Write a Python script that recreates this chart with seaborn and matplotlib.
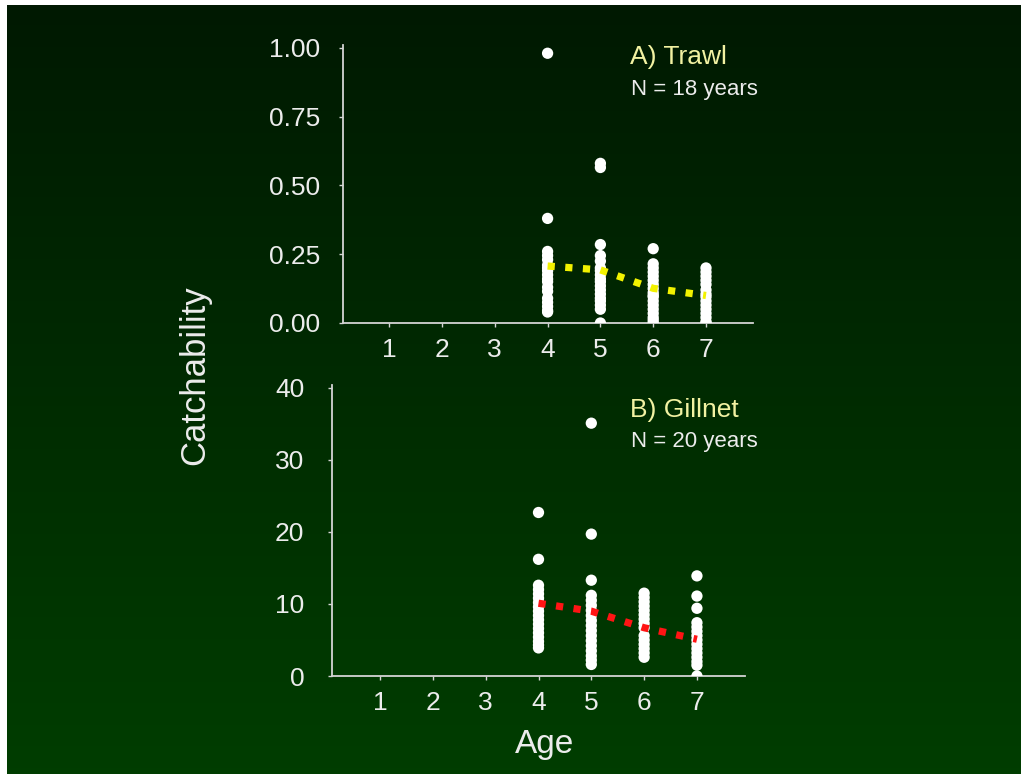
import numpy as np
import pandas as pd
import matplotlib
matplotlib.use("Agg")
import matplotlib.pyplot as plt
import seaborn as sns

# ================== data ==================
ages = [4, 5, 6, 7]

trawl_age4 = [0.98, 0.38, 0.26, 0.245, 0.23, 0.21, 0.20, 0.19, 0.175, 0.16, 0.15, 0.13, 0.115, 0.09, 0.075, 0.06, 0.045, 0.04]
trawl_age5 = [0.58, 0.565, 0.285, 0.245, 0.225, 0.20, 0.19, 0.175, 0.16, 0.15, 0.135, 0.12, 0.105, 0.09, 0.08, 0.065, 0.05, 0.0]
trawl_age6 = [0.27, 0.215, 0.20, 0.185, 0.17, 0.155, 0.14, 0.125, 0.11, 0.10, 0.095, 0.08, 0.065, 0.05, 0.035, 0.02, 0.01, 0.0]
trawl_age7 = [0.20, 0.185, 0.17, 0.155, 0.14, 0.12, 0.105, 0.095, 0.08, 0.065, 0.05, 0.035, 0.02, 0.005, 0.0]
trawl_mean = [0.207, 0.193, 0.126, 0.100]

gill_age4 = [22.7, 16.2, 12.6, 12.0, 11.4, 10.8, 10.2, 9.6, 9.0, 8.4, 7.8, 7.2, 6.6, 6.0, 5.4, 4.8, 4.3, 3.9]
gill_age5 = [35.1, 19.7, 13.3, 11.2, 10.5, 9.8, 9.1, 8.4, 7.7, 7.0, 6.3, 5.6, 4.9, 4.2, 3.5, 2.8, 2.2, 1.6]
gill_age6 = [11.5, 10.9, 10.3, 9.7, 9.1, 8.5, 7.9, 7.3, 6.7, 5.6, 5.0, 4.4, 3.8, 3.2, 2.6]
gill_age7 = [13.9, 11.1, 9.4, 7.4, 6.8, 6.2, 5.6, 5.0, 4.4, 3.8, 3.2, 2.6, 2.0, 1.5, 0.0]
gill_mean = [10.1, 9.0, 6.7, 5.1]

x_ticks = [1, 2, 3, 4, 5, 6, 7]
trawl_yticks = [0.0, 0.25, 0.5, 0.75, 1.0]
trawl_yticklabels = ["0.00", "0.25", "0.50", "0.75", "1.00"]
gill_yticks = [0, 10, 20, 30, 40]
# ==========================================

TXT = "#ececec"
SPINE = "#d4d4d4"


def to_long(cols):
    rows = []
    for age, vals in zip(ages, cols):
        rows += [(age, v) for v in vals]
    return pd.DataFrame(rows, columns=["Age", "q"])


def style_axes(ax, ypad):
    ax.set_facecolor("none")
    for s in ["top", "right"]:
        ax.spines[s].set_visible(False)
    for s in ["left", "bottom"]:
        ax.spines[s].set_color(SPINE)
        ax.spines[s].set_linewidth(1.3)
    ax.tick_params(axis="x", colors=SPINE, labelcolor=TXT, labelsize=19,
                   length=3, width=1, direction="out", pad=8)
    ax.tick_params(axis="y", colors=SPINE, labelcolor=TXT, labelsize=19,
                   length=3, width=1, direction="out", pad=ypad)
    ax.set_xlabel("")
    ax.set_ylabel("")
    ax.grid(False)


def panel(ax, df, ages_, means, line_color, xlim, ylim, ypad):
    sns.scatterplot(data=df, x="Age", y="q", color="white", s=66,
                    edgecolor="none", linewidth=0, ax=ax, zorder=3, legend=False)
    sns.lineplot(x=ages_, y=means, color=line_color, linewidth=5.2,
                 linestyle=(0, (1, 1.45)), ax=ax, zorder=4)
    ax.set_xlim(*xlim)
    ax.set_ylim(*ylim)
    ax.set_xticks(x_ticks)
    style_axes(ax, ypad)


def main():
    sns.set_theme(style="ticks")
    plt.rcParams["font.family"] = ["Liberation Sans", "DejaVu Sans"]

    W, H = 1021, 774
    fig = plt.figure(figsize=(W / 100, H / 100), dpi=100, facecolor="white")

    # gradient backdrop (thin white strip on left/top as in the slide capture)
    bg = fig.add_axes([7 / W, -0.02, 1.05, 1.02 - 5 / H])
    top_c = np.array([0x01, 0x19, 0x02]) / 255
    bot_c = np.array([0x00, 0x3e, 0x00]) / 255
    t = np.linspace(0, 1, 256)[:, None]
    grad = (top_c[None, :] * (1 - t) + bot_c[None, :] * t)[:, None, :]
    bg.imshow(grad, aspect="auto", extent=[0, 1, 0, 1])
    bg.axis("off")

    # top panel: trawl
    ax1 = fig.add_axes([342.7 / W, 1 - 323 / H, (753 - 342.7) / W, (323 - 45) / H])
    df_t = to_long([trawl_age4, trawl_age5, trawl_age6, trawl_age7])
    panel(ax1, df_t, ages, trawl_mean, "#f2f200", (0.12, 7.89), (0, 1.01), 13)
    ax1.set_yticks(trawl_yticks)
    ax1.set_yticklabels(trawl_yticklabels)

    # bottom panel: gillnet
    ax2 = fig.add_axes([332 / W, 1 - 676 / H, (745 - 332) / W, (676 - 385) / H])
    df_g = to_long([gill_age4, gill_age5, gill_age6, gill_age7])
    panel(ax2, df_g, ages, gill_mean, "#ff1414", (0.09, 7.91), (0, 40.4), 17)
    ax2.set_yticks(gill_yticks)

    # annotations
    fig.text(630 / W, 1 - 57 / H, "A) Trawl", color="#f2f2a2", fontsize=19,
             ha="left", va="center")
    fig.text(631 / W, 1 - 89 / H, "N = 18 years", color=TXT, fontsize=16,
             ha="left", va="center")
    fig.text(630 / W, 1 - 410 / H, "B) Gillnet", color="#f2f2a2", fontsize=19,
             ha="left", va="center")
    fig.text(631 / W, 1 - 441 / H, "N = 20 years", color=TXT, fontsize=16,
             ha="left", va="center")

    fig.text(195 / W, 1 - 375 / H, "Catchability", color=TXT, fontsize=25,
             rotation=90, ha="center", va="center")
    fig.text(545 / W, 1 - 745 / H, "Age", color=TXT, fontsize=24,
             ha="center", va="center")

    fig.savefig("out.png", dpi=100, facecolor=fig.get_facecolor())


if __name__ == "__main__":
    main()
